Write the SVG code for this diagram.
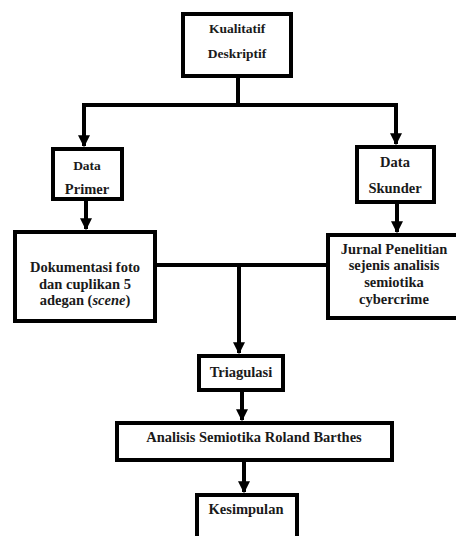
<svg xmlns="http://www.w3.org/2000/svg" width="456" height="536" viewBox="0 0 456 536">
<defs>
<style>
.box{fill:#fff;stroke:#000;stroke-width:4}
.t{font-family:"Liberation Serif","Times New Roman",serif;font-weight:bold;font-size:14.5px;fill:#1a1a1a;text-anchor:middle}
.s{font-size:13.5px}
.c{fill:none;stroke:#000;stroke-width:4}
</style>
<marker id="ah" viewBox="0 0 10 10" refX="9" refY="5" markerWidth="3" markerHeight="3" orient="auto" markerUnits="strokeWidth">
<path d="M0,0 L10,5 L0,10 z" fill="#000"/>
</marker>
</defs>
<rect width="456" height="536" fill="#fff"/>
<g id="connectors">
<path class="c" d="M238,76 V105"/>
<path class="c" d="M83,105 H396"/>
<path class="c" d="M84,103 V146" marker-end="url(#ah)"/>
<path class="c" d="M396,103 V144" marker-end="url(#ah)"/>
<path class="c" d="M86,200 V229" marker-end="url(#ah)"/>
<path class="c" d="M397,203 V232" marker-end="url(#ah)"/>
<path class="c" d="M156,265 H326"/>
<path class="c" d="M239,265 V353" marker-end="url(#ah)"/>
<path class="c" d="M242,391 V420" marker-end="url(#ah)"/>
<path class="c" d="M244,462 V492" marker-end="url(#ah)"/>
</g>
<g id="kualitatif">
<rect class="box" x="183" y="14" width="108" height="62"/>
<text class="t s" x="237" y="33">Kualitatif</text>
<text class="t s" x="237" y="58">Deskriptif</text>
</g>
<g id="data-primer">
<rect class="box" x="53" y="149" width="69" height="50"/>
<text class="t s" x="87" y="170">Data</text>
<text class="t" x="87" y="194" font-size="13px">Primer</text>
</g>
<g id="data-skunder">
<rect class="box" x="357" y="147" width="77" height="55"/>
<text class="t" x="395" y="167">Data</text>
<text class="t" x="395" y="193" font-size="15px">Skunder</text>
</g>
<g id="dokumentasi">
<rect class="box" x="15" y="232" width="140" height="89"/>
<text class="t" x="85" y="272">Dokumentasi foto</text>
<text class="t" x="85" y="289">dan cuplikan 5</text>
<text class="t" x="85" y="305">adegan (<tspan font-style="italic">scene</tspan>)</text>
</g>
<g id="jurnal">
<rect class="box" x="328" y="235" width="140" height="83"/>
<text class="t" x="394" y="254">Jurnal Penelitian</text>
<text class="t" x="394" y="270">sejenis analisis</text>
<text class="t" x="394" y="287">semiotika</text>
<text class="t" x="394" y="304">cybercrime</text>
</g>
<g id="triagulasi">
<rect class="box" x="199" y="356" width="84" height="34"/>
<text class="t" x="241" y="377">Triagulasi</text>
</g>
<g id="analisis">
<rect class="box" x="117" y="423" width="275" height="37"/>
<text class="t" x="254" y="442">Analisis Semiotika Roland Barthes</text>
</g>
<g id="kesimpulan">
<rect class="box" x="197" y="495" width="100" height="50"/>
<text class="t" x="246" y="514">Kesimpulan</text>
</g>
</svg>
